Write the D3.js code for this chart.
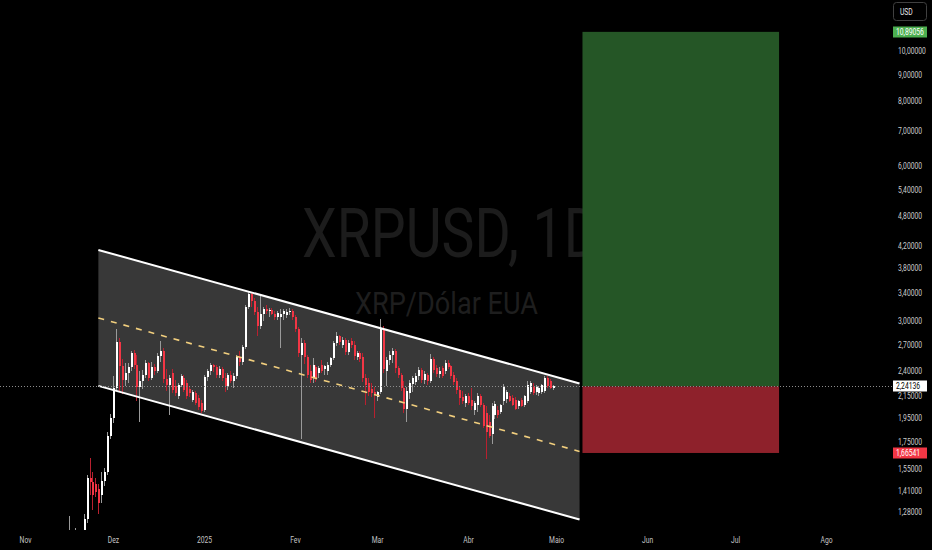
<!DOCTYPE html>
<html>
<head>
<meta charset="utf-8">
<script src="https://cdn.jsdelivr.net/npm/d3@7"></script>
<style>
  html, body { margin: 0; padding: 0; background: #000; }
  svg { display: block; font-family: Roboto, "Noto Sans", sans-serif; }
</style>
</head>
<body>
<div id="chart"></div>
<script>
// daily candles, the first one is 2024-11-16
var firstDay = "2024-11-16";

var opens = [
  1.05, 1.14, 1.08, 1.12, 1.09, 1.10, 1.24, 1.49, 1.46, 1.45, 1.42, 1.38, 1.47, 1.53, 1.80,              // nov
  1.95, 2.23, 2.73, 2.45, 2.31, 2.38, 2.44, 2.60, 2.46, 2.24, 2.30, 2.36, 2.49, 2.33, 2.44, 2.40,        // dez
  2.57, 2.62, 2.32, 2.26, 2.38, 2.25, 2.15, 2.26, 2.33, 2.28, 2.22, 2.11, 2.18, 2.13, 2.08,
  2.02, 2.34, 2.40, 2.46, 2.44, 2.36, 2.42, 2.33, 2.25, 2.36, 2.30, 2.35, 2.56, 2.50, 2.67, 3.19,        // jan
  3.38, 3.28, 3.12, 2.93, 3.10, 3.17, 3.13, 3.15, 3.10, 3.05, 3.05, 3.09, 3.08, 3.12, 3.14,
  3.06, 2.90, 2.58, 2.72, 2.55, 2.40, 2.33, 2.44, 2.38, 2.46, 2.42, 2.40, 2.47, 2.54,                    // fev
  2.72, 2.80, 2.70, 2.76, 2.61, 2.74, 2.69, 2.55, 2.60, 2.56, 2.33, 2.28, 2.22, 2.19,
  2.14, 2.19, 2.89, 2.40, 2.52, 2.58, 2.62, 2.43, 2.36, 2.23, 2.03, 2.18, 2.27, 2.29, 2.35, 2.41,        // mar
  2.31, 2.36, 2.30, 2.53, 2.43, 2.37, 2.43, 2.40, 2.49, 2.45, 2.36, 2.30, 2.21, 2.14, 2.08,
  2.15, 2.11, 2.02, 2.06, 2.15, 2.06, 1.99, 1.91, 1.81, 1.97, 2.02, 2.00, 2.10, 2.12, 2.15,              // abr
  2.13, 2.11, 2.05, 2.11, 2.06, 2.10, 2.19, 2.24, 2.19, 2.18, 2.19, 2.20, 2.33, 2.30, 2.23
];
var highs = [
  1.26, 1.17, 1.19, 1.15, 1.14, 1.27, 1.51, 1.63, 1.53, 1.49, 1.45, 1.53, 1.56, 1.83, 1.98,
  2.35, 2.89, 2.78, 2.53, 2.49, 2.49, 2.62, 2.64, 2.58, 2.40, 2.41, 2.52, 2.50, 2.50, 2.48, 2.60,
  2.74, 2.66, 2.42, 2.36, 2.42, 2.31, 2.28, 2.37, 2.36, 2.31, 2.25, 2.21, 2.20, 2.16, 2.11,
  2.36, 2.42, 2.49, 2.48, 2.47, 2.45, 2.44, 2.38, 2.38, 2.40, 2.38, 2.58, 2.62, 2.70, 3.22, 3.42,
  3.41, 3.33, 3.20, 3.38, 3.20, 3.22, 3.18, 3.18, 3.14, 3.14, 3.16, 3.17, 3.16, 3.18, 3.16,
  3.08, 2.92, 2.78, 2.76, 2.58, 2.47, 2.54, 2.46, 2.45, 2.52, 2.47, 2.50, 2.56, 2.75,
  2.85, 2.82, 2.79, 2.78, 2.76, 2.78, 2.74, 2.62, 2.62, 2.60, 2.37, 2.33, 2.28, 2.24,
  2.20, 3.03, 2.93, 2.55, 2.62, 2.66, 2.65, 2.45, 2.38, 2.30, 2.24, 2.31, 2.35, 2.38, 2.44, 2.43,
  2.40, 2.38, 2.59, 2.56, 2.47, 2.44, 2.45, 2.52, 2.52, 2.47, 2.39, 2.33, 2.24, 2.20, 2.17,
  2.18, 2.23, 2.10, 2.18, 2.17, 2.08, 2.05, 1.97, 2.08, 2.10, 2.05, 2.07, 2.27, 2.21, 2.18,
  2.16, 2.14, 2.11, 2.13, 2.16, 2.30, 2.30, 2.28, 2.26, 2.25, 2.27, 2.35, 2.35, 2.32, 2.26
];
var lows = [
  0.98, 1.02, 1.04, 1.05, 1.06, 1.08, 1.22, 1.38, 1.29, 1.37, 1.27, 1.33, 1.44, 1.51, 1.77,
  1.90, 2.20, 2.19, 2.17, 2.25, 2.28, 2.40, 2.42, 2.10, 1.91, 2.22, 2.33, 2.30, 2.31, 2.36, 2.38,
  2.50, 2.28, 2.20, 1.97, 2.18, 2.15, 2.12, 2.24, 2.19, 2.12, 2.14, 2.09, 2.06, 2.02, 1.99,
  2.00, 2.30, 2.36, 2.39, 2.33, 2.33, 2.30, 2.19, 2.21, 2.28, 2.23, 2.32, 2.45, 2.46, 2.65, 3.16,
  3.20, 3.08, 2.80, 2.90, 3.00, 3.10, 3.05, 3.08, 3.02, 3.02, 2.66, 3.02, 3.04, 3.08, 3.02,
  2.86, 2.56, 1.77, 2.48, 2.33, 2.28, 2.28, 2.29, 2.33, 2.38, 2.36, 2.36, 2.44, 2.52,
  2.68, 2.70, 2.66, 2.58, 2.58, 2.66, 2.52, 2.52, 2.50, 2.29, 2.06, 2.15, 2.14, 1.95,
  2.10, 2.17, 2.38, 2.25, 2.47, 2.49, 2.38, 2.33, 2.20, 1.99, 1.91, 2.12, 2.19, 2.26, 2.31, 2.28,
  2.27, 2.26, 2.28, 2.38, 2.34, 2.33, 2.33, 2.37, 2.42, 2.32, 2.26, 2.17, 2.06, 2.07, 2.04,
  2.06, 2.02, 1.97, 2.00, 2.04, 1.86, 1.62, 1.78, 1.73, 1.94, 1.95, 1.98, 2.06, 2.08, 2.09,
  2.05, 2.02, 2.03, 2.04, 2.04, 2.08, 2.17, 2.16, 2.16, 2.15, 2.17, 2.18, 2.23, 2.22, 2.21
];
var closes = [
  1.14, 1.08, 1.12, 1.09, 1.10, 1.24, 1.49, 1.46, 1.38, 1.40, 1.33, 1.47, 1.53, 1.80, 1.95,
  2.23, 2.73, 2.45, 2.31, 2.38, 2.44, 2.60, 2.46, 2.24, 2.30, 2.36, 2.49, 2.33, 2.44, 2.40, 2.57,
  2.62, 2.32, 2.26, 2.33, 2.21, 2.18, 2.26, 2.35, 2.21, 2.15, 2.18, 2.19, 2.08, 2.04, 2.01,
  2.34, 2.40, 2.46, 2.44, 2.36, 2.42, 2.33, 2.25, 2.36, 2.30, 2.35, 2.56, 2.50, 2.67, 3.19, 3.38,
  3.28, 3.12, 2.93, 3.10, 3.17, 3.13, 3.15, 3.10, 3.05, 3.11, 3.09, 3.13, 3.12, 3.14, 3.06,
  2.90, 2.60, 2.72, 2.55, 2.36, 2.31, 2.47, 2.33, 2.43, 2.40, 2.45, 2.47, 2.54, 2.72,
  2.80, 2.73, 2.76, 2.61, 2.72, 2.69, 2.57, 2.60, 2.53, 2.33, 2.26, 2.19, 2.18, 2.16,
  2.19, 2.90, 2.42, 2.52, 2.58, 2.62, 2.43, 2.36, 2.23, 2.03, 2.20, 2.28, 2.33, 2.35, 2.41, 2.31,
  2.37, 2.30, 2.53, 2.41, 2.37, 2.40, 2.35, 2.49, 2.44, 2.35, 2.29, 2.21, 2.13, 2.10, 2.15,
  2.08, 2.05, 2.08, 2.15, 2.06, 1.88, 1.83, 1.80, 2.05, 2.07, 1.97, 2.06, 2.24, 2.19, 2.10,
  2.06, 2.03, 2.10, 2.05, 2.15, 2.26, 2.28, 2.18, 2.24, 2.23, 2.26, 2.33, 2.25, 2.23, 2.24136
];

// parallel channel (anchors) and long position
var channelDates = ["2024-11-26", "2025-05-09"];
var channelUpper = [4.118, 2.271];
var channelLower = [2.246, 1.238];
var positionDates = ["2025-05-10", "2025-07-16"];
var targetPrice = 10.89056;
var entryPrice = 2.24136;
var stopPrice = 1.66541;

// axis ticks
var monthTicks = ["2024-11-01", "2024-12-01", "2025-01-01", "2025-02-01", "2025-03-01",
                  "2025-04-01", "2025-05-01", "2025-06-01", "2025-07-01", "2025-08-01"];
var monthLabels = ["Nov", "Dez", "2025", "Fev", "Mar", "Abr", "Maio", "Jun", "Jul", "Ago"];
var priceTicks = [10, 9, 8, 7, 6, 5.4, 4.8, 4.2, 3.8, 3.4, 3.0, 2.7, 2.4, 2.15, 1.95, 1.75, 1.55, 1.41, 1.28];

var title = "XRPUSD, 1D";
var subtitle = "XRP/Dólar EUA";

var parseDay = d3.utcParse("%Y-%m-%d");
var fmt = function(v) { return v.toFixed(5).replace(".", ","); };

var width = 932, height = 550;

var x = d3.scaleUtc()
    .domain([parseDay("2024-11-01"), parseDay("2025-08-01")])
    .range([25, 826]);
var y = d3.scaleLog()
    .domain([1.28, 10])
    .range([512, 51]);

var svg = d3.select("#chart")
  .append("svg")
    .attr("width", width)
    .attr("height", height)
    .style("background", "#000");

svg.append("defs").append("clipPath")
    .attr("id", "pane")
  .append("rect")
    .attr("x", 0).attr("y", 0)
    .attr("width", 890).attr("height", 530);

var pane = svg.append("g").attr("clip-path", "url(#pane)");

// watermark
pane.append("text")
    .attr("x", 302).attr("y", 257)
    .attr("font-size", 69)
    .attr("textLength", 298)
    .attr("lengthAdjust", "spacingAndGlyphs")
    .attr("fill", "#1c1c1c")
    .text(title);
pane.append("text")
    .attr("x", 355).attr("y", 314)
    .attr("font-size", 31)
    .attr("textLength", 183)
    .attr("lengthAdjust", "spacingAndGlyphs")
    .attr("fill", "#1e1e1e")
    .text(subtitle);

// channel fill
var c0 = x(parseDay(channelDates[0])), c1 = x(parseDay(channelDates[1]));
var up = channelUpper.map(y), lo = channelLower.map(y);
pane.append("path")
    .attr("d", "M" + c0 + "," + up[0] + "L" + c1 + "," + up[1] +
               "L" + c1 + "," + lo[1] + "L" + c0 + "," + lo[0] + "Z")
    .attr("fill", "#383838");

// candles
var start = parseDay(firstDay);
var candles = closes.map(function(c, i) {
  return { date: d3.utcDay.offset(start, i), o: opens[i], h: highs[i], l: lows[i], c: c };
});

var bars = pane.append("g")
    .attr("shape-rendering", "crispEdges")
  .selectAll("g")
  .data(candles)
  .enter().append("g");

bars.append("line")
    .attr("x1", function(d) { return Math.round(x(d.date)) + 0.5; })
    .attr("x2", function(d) { return Math.round(x(d.date)) + 0.5; })
    .attr("y1", function(d) { return y(d.h); })
    .attr("y2", function(d) { return y(d.l); })
    .attr("stroke", function(d) { return d.c >= d.o ? "#9a9a9a" : "#b8202f"; });

bars.append("rect")
    .attr("x", function(d) { return Math.round(x(d.date)) - 0.5; })
    .attr("width", 2)
    .attr("y", function(d) { return y(Math.max(d.o, d.c)); })
    .attr("height", function(d) { return Math.max(1, y(Math.min(d.o, d.c)) - y(Math.max(d.o, d.c))); })
    .attr("fill", function(d) { return d.c >= d.o ? "#ffffff" : "#f23645"; });

// channel borders and dashed median
pane.append("line")
    .attr("x1", c0).attr("y1", up[0]).attr("x2", c1).attr("y2", up[1])
    .attr("stroke", "#ffffff").attr("stroke-width", 2);
pane.append("line")
    .attr("x1", c0).attr("y1", lo[0]).attr("x2", c1).attr("y2", lo[1])
    .attr("stroke", "#ffffff").attr("stroke-width", 2);
pane.append("line")
    .attr("x1", c0).attr("y1", (up[0] + lo[0]) / 2)
    .attr("x2", c1).attr("y2", (up[1] + lo[1]) / 2)
    .attr("stroke", "#f2cf7e").attr("stroke-width", 1.6)
    .attr("stroke-dasharray", "6,7");

// long position
var p0 = x(parseDay(positionDates[0])), p1 = x(parseDay(positionDates[1]));
pane.append("rect")
    .attr("x", p0).attr("width", p1 - p0)
    .attr("y", y(targetPrice)).attr("height", y(entryPrice) - y(targetPrice))
    .attr("fill", "#255626");
pane.append("rect")
    .attr("x", p0).attr("width", p1 - p0)
    .attr("y", y(entryPrice)).attr("height", y(stopPrice) - y(entryPrice))
    .attr("fill", "#8e212b");

// last price line
var last = closes[closes.length - 1];
svg.append("line")
    .attr("x1", 0).attr("x2", 893)
    .attr("y1", Math.round(y(last)) + 0.5).attr("y2", Math.round(y(last)) + 0.5)
    .attr("stroke", "#8c8c8c")
    .attr("stroke-dasharray", "1,2");

// time axis
var xAxis = d3.axisBottom(x)
    .tickValues(monthTicks.map(parseDay))
    .tickFormat(function(d, i) { return monthLabels[i]; })
    .tickSize(0)
    .tickPadding(0);
svg.append("g")
    .attr("transform", "translate(0,543)")
    .call(xAxis)
    .call(function(g) { g.select(".domain").remove(); })
  .selectAll("text")
    .attr("y", 0).attr("dy", 0)
    .attr("font-family", "Roboto, sans-serif")
    .attr("font-size", 9)
    .attr("fill", "#c4c4c4")
    .attr("transform", "scale(0.75,1)");

// price axis
var yAxis = d3.axisRight(y)
    .tickValues(priceTicks)
    .tickFormat(fmt)
    .tickSize(0)
    .tickPadding(0);
svg.append("g")
    .attr("transform", "translate(898,0)")
    .call(yAxis)
    .call(function(g) { g.select(".domain").remove(); })
  .selectAll("text")
    .attr("font-family", "Roboto, sans-serif")
    .attr("font-size", 9)
    .attr("fill", "#cccccc")
    .attr("transform", "scale(0.75,1)");

// currency box
svg.append("rect")
    .attr("x", 893.5).attr("y", 2.5).attr("width", 33).attr("height", 18).attr("rx", 3)
    .attr("fill", "#000").attr("stroke", "#404040");
svg.append("text")
    .attr("transform", "translate(900,15) scale(0.75,1)")
    .attr("font-size", 9).attr("fill", "#e6e6e6")
    .text("USD");

// price labels
var labels = [
  { v: targetPrice, bg: "#4caf50", fg: "#ffffff" },
  { v: entryPrice, bg: "#ffffff", fg: "#000000" },
  { v: stopPrice, bg: "#f23645", fg: "#ffffff" }
];
var tags = svg.append("g").selectAll("g")
  .data(labels)
  .enter().append("g")
    .attr("transform", function(d) { return "translate(893," + Math.round(y(d.v)) + ")"; });
tags.append("rect")
    .attr("x", 0).attr("y", -5.5).attr("width", 34).attr("height", 11)
    .attr("fill", function(d) { return d.bg; });
tags.append("text")
    .attr("transform", "translate(3,3.2) scale(0.75,1)")
    .attr("font-size", 9)
    .attr("fill", function(d) { return d.fg; })
    .text(function(d) { return fmt(d.v); });
</script>
</body>
</html>
